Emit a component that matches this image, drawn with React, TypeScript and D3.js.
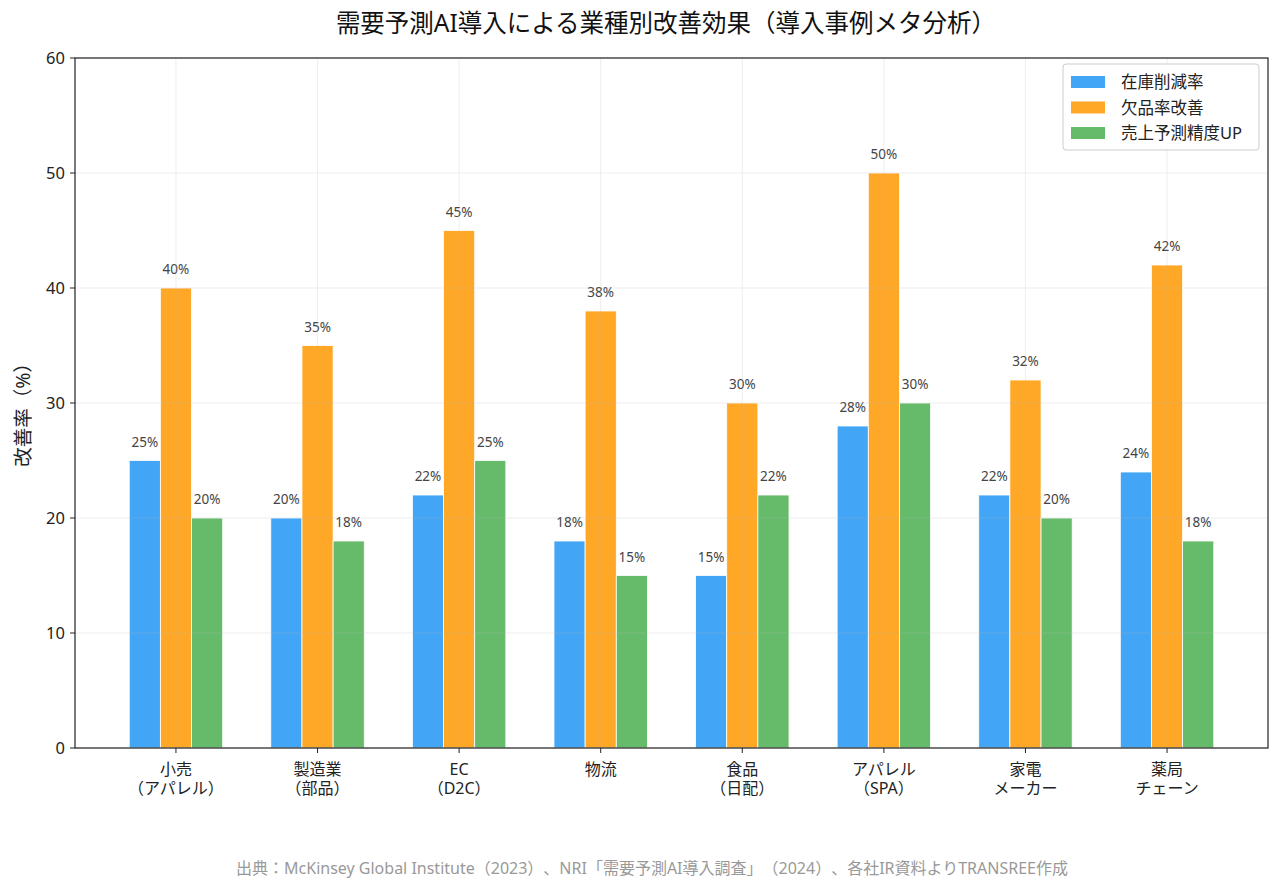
import React from "react";
import * as d3 from "d3";

const categories = [
  ["小売", "（アパレル）"],
  ["製造業", "（部品）"],
  ["EC", "（D2C）"],
  ["物流", ""],
  ["食品", "（日配）"],
  ["アパレル", "（SPA）"],
  ["家電", "メーカー"],
  ["薬局", "チェーン"],
];
const seriesNames = ["在庫削減率", "欠品率改善", "売上予測精度UP"];
const inventory = [25, 20, 22, 18, 15, 28, 22, 24];
const stockout = [40, 35, 45, 38, 30, 50, 32, 42];
const forecast = [20, 18, 25, 15, 22, 30, 20, 18];
const yTicks = [0, 10, 20, 30, 40, 50, 60];
const colors = ["#42A5F5", "#FFA726", "#66BB6A"];

const font = "'Noto Sans', 'Noto Sans CJK JP', sans-serif";

const App = () => {
  const W = 1280;
  const H = 890;
  const left = 75;
  const right = 1268;
  const top = 58;
  const bottom = 748;
  const barW = 0.22;

  const x = d3.scaleLinear().domain([-0.713, 7.713]).range([left, right]);
  const y = d3.scaleLinear().domain([0, 60]).range([bottom, top]);
  const series = [inventory, stockout, forecast];
  const pxW = x(barW) - x(0);

  return (
    <svg
      width={W}
      height={H}
      style={{ position: "absolute", left: 0, top: 0, fontFamily: font, textSpacingTrim: "space-all" } as any}
    >
      <rect width={W} height={H} fill="#fff" />
      <text x={666} y={32} textAnchor="middle" fontSize={24.5} fill="#111">
        需要予測AI導入による業種別改善効果（導入事例メタ分析）
      </text>

      {/* bars */}
      {series.map((vals, si) =>
        vals.map((v, i) => {
          const cx = x(i + (si - 1) * barW);
          return (
            <g key={`${si}-${i}`}>
              <rect
                x={cx - pxW / 2}
                y={y(v)}
                width={pxW}
                height={y(0) - y(v)}
                fill={colors[si]}
                stroke="#fff"
                strokeWidth={0.8}
              />
              <text x={cx} y={y(v) - 14} textAnchor="middle" fontSize={13.5} fill="#444">
                {v}%
              </text>
            </g>
          );
        })
      )}

      {/* grid */}
      <g opacity={0.3}>
        {yTicks.map((t) => (
          <line key={t} x1={left} x2={right} y1={y(t)} y2={y(t)} stroke="#bbb" strokeWidth={0.8} />
        ))}
        {categories.map((_, i) => (
          <line key={i} x1={x(i)} x2={x(i)} y1={top} y2={bottom} stroke="#bbb" strokeWidth={0.8} />
        ))}
      </g>

      <rect x={left} y={top} width={right - left} height={bottom - top} fill="none" stroke="#222" strokeWidth={1.2} />

      {/* y axis */}
      {yTicks.map((t) => (
        <g key={t}>
          <line x1={left - 5} x2={left} y1={y(t)} y2={y(t)} stroke="#222" />
          <text x={left - 10} y={y(t) + 6} textAnchor="end" fontSize={16.5} fill="#222">
            {t}
          </text>
        </g>
      ))}
      <text transform={`translate(30, 410) rotate(-90)`} textAnchor="middle" fontSize={19.5} fill="#222">
        改善率（%）
      </text>

      {/* x axis */}
      {categories.map((c, i) => (
        <g key={i}>
          <line x1={x(i)} x2={x(i)} y1={bottom} y2={bottom + 5} stroke="#222" />
          <text x={x(i)} y={bottom + 27} textAnchor="middle" fontSize={16} fill="#222">
            <tspan x={x(i)}>{c[0]}</tspan>
            {c[1] && (
              <tspan x={x(i)} dy={19}>
                {c[1]}
              </tspan>
            )}
          </text>
        </g>
      ))}

      {/* legend */}
      <rect x={1063} y={64} width={196} height={86} rx={3} fill="#fff" fillOpacity={0.85} stroke="#ccc" />
      {seriesNames.map((n, i) => (
        <g key={n}>
          <rect x={1071} y={76 + i * 25.5} width={34} height={12} fill={colors[i]} />
          <text x={1121} y={88 + i * 25.5} fontSize={16.5} fill="#222">
            {n}
          </text>
        </g>
      ))}

      <text x={652} y={874} textAnchor="middle" fontSize={16} fill="#999">
        出典：McKinsey Global Institute（2023）、NRI「需要予測AI導入調査」（2024）、各社IR資料よりTRANSREE作成
      </text>
    </svg>
  );
};

export default App;
